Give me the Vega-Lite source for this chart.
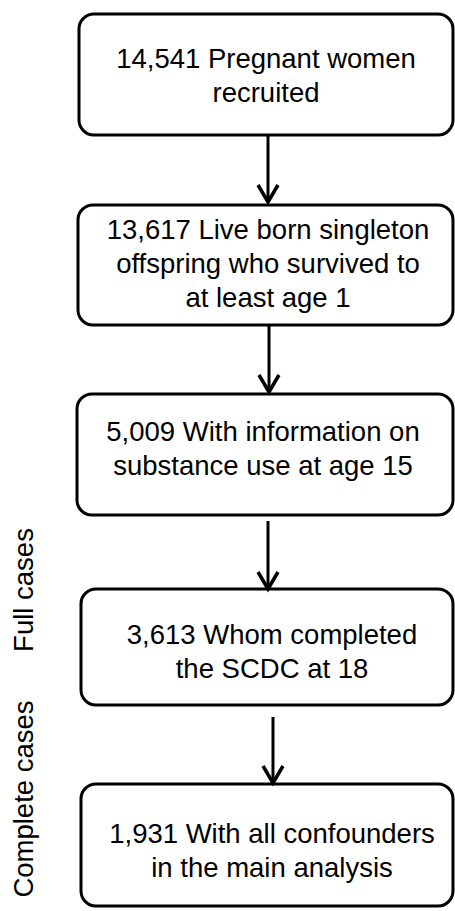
{
  "$schema": "https://vega.github.io/schema/vega-lite/v6.json",
  "width": 455,
  "height": 911,
  "padding": 0,
  "autosize": {"type": "none"},
  "background": "white",
  "config": {"view": {"stroke": null}},
  "datasets": {
    "boxes": [
      {"step": 1, "x1": 79, "x2": 453, "y1": 14, "y2": 135, "xm": 266, "ym": 60, "label": "14,541 Pregnant women\nrecruited"},
      {"step": 2, "x1": 78, "x2": 453, "y1": 205, "y2": 325, "xm": 268, "ym": 231, "label": "13,617 Live born singleton\noffspring who survived to\nat least age 1"},
      {"step": 3, "x1": 77, "x2": 453, "y1": 394, "y2": 515, "xm": 263, "ym": 433, "label": "5,009 With information on\nsubstance use at age 15"},
      {"step": 4, "x1": 81, "x2": 453, "y1": 589, "y2": 705, "xm": 272, "ym": 636, "label": "3,613 Whom completed\nthe SCDC at 18"},
      {"step": 5, "x1": 81, "x2": 453, "y1": 784, "y2": 906, "xm": 272, "ym": 835, "label": "1,931 With all confounders\nin the main analysis"}
    ],
    "arrows": [
      {"x": 268, "y1": 136, "y2": 202},
      {"x": 269, "y1": 326, "y2": 392},
      {"x": 268, "y1": 521, "y2": 589},
      {"x": 273, "y1": 717, "y2": 783}
    ],
    "side": [
      {"x": 25, "y": 590, "label": "Full cases"},
      {"x": 25, "y": 799, "label": "Complete cases"}
    ]
  },
  "layer": [
    {
      "data": {"name": "boxes"},
      "mark": {"type": "rect", "fill": "white", "stroke": "black", "strokeWidth": 3, "cornerRadius": 15},
      "encoding": {
        "x": {"field": "x1", "type": "quantitative", "scale": {"domain": [0, 455], "nice": false, "zero": false}, "axis": null},
        "x2": {"field": "x2"},
        "y": {"field": "y1", "type": "quantitative", "scale": {"domain": [0, 911], "nice": false, "zero": false, "reverse": true}, "axis": null},
        "y2": {"field": "y2"}
      }
    },
    {
      "data": {"name": "boxes"},
      "mark": {"type": "text", "font": "Liberation Sans", "fontSize": 27.5, "lineHeight": 34, "lineBreak": "\n", "align": "center", "baseline": "middle", "color": "black"},
      "encoding": {
        "x": {"field": "xm", "type": "quantitative"},
        "y": {"field": "ym", "type": "quantitative"},
        "text": {"field": "label"}
      }
    },
    {
      "data": {"name": "arrows"},
      "mark": {"type": "rule", "stroke": "black", "strokeWidth": 3},
      "encoding": {
        "x": {"field": "x", "type": "quantitative"},
        "y": {"field": "y1", "type": "quantitative"},
        "y2": {"field": "y2"}
      }
    },
    {
      "data": {"name": "arrows"},
      "mark": {"type": "point", "shape": "M -1 -1.7 L 0 0 L 1 -1.7", "size": 400, "filled": false, "stroke": "black", "strokeWidth": 3.5, "opacity": 1},
      "encoding": {
        "x": {"field": "x", "type": "quantitative"},
        "y": {"field": "y2", "type": "quantitative"}
      }
    },
    {
      "data": {"name": "side"},
      "mark": {"type": "text", "font": "Liberation Sans", "fontSize": 27.5, "angle": 270, "align": "center", "baseline": "middle", "color": "black"},
      "encoding": {
        "x": {"field": "x", "type": "quantitative"},
        "y": {"field": "y", "type": "quantitative"},
        "text": {"field": "label"}
      }
    }
  ]
}
